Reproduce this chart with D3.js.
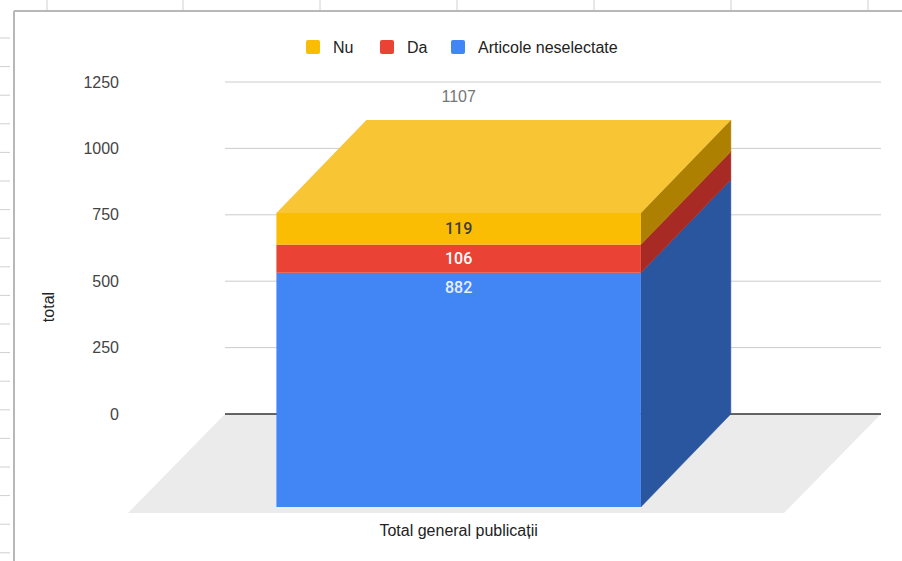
<!DOCTYPE html>
<html>
<head>
<meta charset="utf-8">
<script src="https://cdn.jsdelivr.net/npm/d3@7"></script>
<style>
  html, body { margin: 0; padding: 0; background: #fff; }
  svg { display: block; font-family: "Liberation Sans", Arial, sans-serif; }
</style>
</head>
<body>
<svg id="chart" width="902" height="561"></svg>
<script>
// ---- data ----
const categories = ["Total general publicații"];
const seriesNames = ["Articole neselectate", "Da", "Nu"];   // stacking order bottom -> top
const articoleNeselectate = [882];
const da = [106];
const nu = [119];
const totals = [1107];
const legendOrder = ["Nu", "Da", "Articole neselectate"];
const yTicks = [0, 250, 500, 750, 1000, 1250];
const yTitle = "total";

const frontColors = { "Articole neselectate": "#4285f4", "Da": "#ea4335", "Nu": "#fbbc04" };
const sideColors  = { "Articole neselectate": "#2a56a0", "Da": "#a82a24", "Nu": "#ae8002" };
const topColors   = { "Articole neselectate": "#6b9ff6", "Da": "#ee6a5f", "Nu": "#f8c535" };
const labelColors = { "Articole neselectate": "#e8f0fe", "Da": "#ffffff", "Nu": "#3c3c3c" };

const svg = d3.select("#chart");

// ---- spreadsheet frame decoration ----
const frame = svg.append("g");
[47, 183, 320, 457, 594, 731, 868].forEach(x =>
  frame.append("line").attr("x1", x).attr("x2", x).attr("y1", 0).attr("y2", 10)
    .attr("stroke", "#d0d0d0").attr("stroke-width", 1));
frame.append("line").attr("x1", 14).attr("x2", 902).attr("y1", 11).attr("y2", 11)
  .attr("stroke", "#b8b8b8").attr("stroke-width", 2);
frame.append("line").attr("x1", 14).attr("x2", 14).attr("y1", 11).attr("y2", 561)
  .attr("stroke", "#b8b8b8").attr("stroke-width", 2);
d3.range(38, 561, 28.6).forEach(y =>
  frame.append("line").attr("x1", 0).attr("x2", 10).attr("y1", y).attr("y2", y)
    .attr("stroke", "#d0d0d0").attr("stroke-width", 1));

// ---- scales (back plane) ----
const plotLeft = 225, plotRight = 881;
const y = d3.scaleLinear().domain([0, 1250]).range([414, 82]);
const x = d3.scaleBand().domain(categories).range([plotLeft, plotRight])
  .paddingInner(0).paddingOuter(0.4).align(0.485);
const depth = { dx: -90, dy: 93 };      // back -> front offset for the bar
const floorDepth = { dx: -97, dy: 99 }; // back -> front offset for the floor

// floor
svg.append("path")
  .attr("d", `M${plotLeft},${y(0)} L${plotRight},${y(0)} L${plotRight + floorDepth.dx},${y(0) + floorDepth.dy} L${plotLeft + floorDepth.dx},${y(0) + floorDepth.dy} Z`)
  .attr("fill", "#ebebeb");

// gridlines
svg.append("g").selectAll("line").data(yTicks.filter(d => d !== 0)).join("line")
  .attr("x1", plotLeft).attr("x2", plotRight)
  .attr("y1", d => y(d)).attr("y2", d => y(d))
  .attr("stroke", "#cccccc").attr("stroke-width", 1);
// baseline
svg.append("line").attr("x1", plotLeft).attr("x2", plotRight)
  .attr("y1", y(0)).attr("y2", y(0)).attr("stroke", "#333").attr("stroke-width", 1.5);

// y axis labels
const yAxis = svg.append("g").attr("transform", "translate(119,0)")
  .call(d3.axisLeft(y).tickValues(yTicks).tickSize(0).tickPadding(0).tickFormat(d3.format("d")));
yAxis.select(".domain").remove();
yAxis.selectAll("text").attr("font-size", 16).attr("fill", "#444")
  .attr("font-family", "'Liberation Sans', Arial, sans-serif").attr("dy", "0.32em");

// y title
svg.append("text").attr("transform", "translate(54,307) rotate(-90)")
  .attr("text-anchor", "middle").attr("font-size", 16).attr("fill", "#222").text(yTitle);

// ---- stacked 3D bar ----
const table = categories.map((c, i) => ({
  category: c,
  "Articole neselectate": articoleNeselectate[i],
  "Da": da[i],
  "Nu": nu[i]
}));
const stack = d3.stack().keys(seriesNames)(table);
const bars = svg.append("g");
stack.forEach((layer, li) => {
  const key = layer.key;
  layer.forEach(seg => {
    const xb0 = x(seg.data.category), xb1 = xb0 + x.bandwidth();
    const yb0 = y(seg[0]), yb1 = y(seg[1]);
    const xf0 = xb0 + depth.dx, xf1 = xb1 + depth.dx;
    const yf0 = yb0 + depth.dy, yf1 = yb1 + depth.dy;
    // side face
    bars.append("path")
      .attr("d", `M${xf1},${yf0} L${xb1},${yb0} L${xb1},${yb1} L${xf1},${yf1} Z`)
      .attr("fill", sideColors[key]).attr("stroke", sideColors[key]).attr("stroke-width", 0.5);
    // front face
    bars.append("rect").attr("x", xf0).attr("y", yf1)
      .attr("width", xf1 - xf0).attr("height", yf0 - yf1)
      .attr("fill", frontColors[key]);
    // top face on the last layer
    if (li === stack.length - 1) {
      bars.append("path")
        .attr("d", `M${xf0},${yf1} L${xf1},${yf1} L${xb1},${yb1} L${xb0},${yb1} Z`)
        .attr("fill", topColors[key]);
    }
    // data label
    const ly = Math.min((yf0 + yf1) / 2, yf1 + 15);
    bars.append("text").attr("x", (xf0 + xf1) / 2).attr("y", ly).attr("dy", "0.35em")
      .attr("text-anchor", "middle").attr("font-size", 16)
      .attr("font-family", "Roboto, 'Liberation Sans', Arial, sans-serif")
      .attr("font-weight", 500)
      .attr("fill", labelColors[key]).text(seg.data[key]);
  });
});

// total label
categories.forEach((c, i) => {
  svg.append("text")
    .attr("x", x(c) + x.bandwidth() / 2 + depth.dx)
    .attr("y", y(totals[i]) - 24).attr("dy", "0.35em")
    .attr("text-anchor", "middle").attr("font-size", 16).attr("fill", "#757575")
    .text(totals[i]);
});

// x category label
svg.append("g").selectAll("text").data(categories).join("text")
  .attr("x", d => x(d) + x.bandwidth() / 2 + depth.dx)
  .attr("y", 530).attr("dy", "0.35em")
  .attr("text-anchor", "middle").attr("font-size", 16).attr("fill", "#222")
  .text(d => d);

// ---- legend ----
const legendX = { "Nu": 306, "Da": 380, "Articole neselectate": 451 };
const legend = svg.append("g");
legendOrder.forEach(name => {
  const g = legend.append("g").attr("transform", `translate(${legendX[name]},40)`);
  g.append("rect").attr("width", 14).attr("height", 14).attr("rx", 2)
    .attr("fill", frontColors[name]);
  g.append("text").attr("x", 27).attr("y", 7).attr("dy", "0.35em")
    .attr("font-size", 16).attr("fill", "#222").text(name);
});
</script>
</body>
</html>
